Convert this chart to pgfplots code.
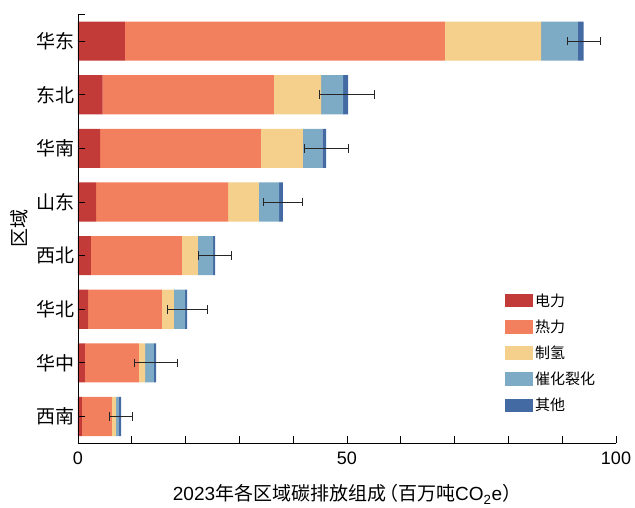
\documentclass[border=0pt]{standalone}
\usepackage{fontspec}
\setmainfont{Liberation Sans}
\newfontfamily\cjk{Noto Sans CJK SC}
\usepackage{pgfplots}
\pgfplotsset{compat=1.18}
\definecolor{cRed}{HTML}{C33B39}
\definecolor{cOrange}{HTML}{F2805F}
\definecolor{cYellow}{HTML}{F5D08D}
\definecolor{cLBlue}{HTML}{7DAAC5}
\definecolor{cDBlue}{HTML}{446AA3}
\pgfplotsset{myleg/.style={legend image code/.code={\fill[##1] (0pt,-6.65pt) rectangle (28pt,6.65pt);}}}
\begin{document}
\begin{tikzpicture}
\begin{axis}[
  name=main,
  scale only axis, width=538pt, height=429pt,
  xbar stacked, bar width=0.73,
  xmin=0, xmax=100, ymin=-0.5, ymax=7.5,
  axis x line*=bottom, axis y line*=left,
  axis line style={line width=0.8pt, black},
  tick align=inside, major tick length=7pt,
  tick style={line width=0.8pt, black},
  xtick={0,10,...,100}, xticklabels={0,,,,,50,,,,,100},
  xticklabel style={font=\fontsize{18}{20}\selectfont, yshift=-5pt},
  /pgf/number format/assume math mode=true,
  ytick={0,...,7},
  yticklabels={西南,华中,华北,西北,山东,华南,东北,华东},
  yticklabel style={font=\fontsize{19}{22}\selectfont\cjk},
  extra y ticks={7.5}, extra y tick labels={},
  axis on top,
  xlabel={2023{\cjk 年各区域碳排放组成\hspace{-7pt}（百万吨}CO\textsubscript{2}e{\cjk ）}},
  every axis x label/.style={at={(axis description cs:0.5,-0.1189)}, anchor=center, font=\fontsize{19}{22}\selectfont},
  ylabel={区域},
  every axis y label/.style={at={(axis description cs:-0.1097,0.5)}, anchor=center, rotate=90, font=\fontsize{19}{22}\selectfont\cjk},
  legend style={draw=none, fill=none, at={(0.7937,0.2105)}, anchor=west, inner sep=0pt,
    font=\fontsize{15}{18}\selectfont\cjk, row sep=8pt},
  legend cell align=left,
]
\addplot[fill=cRed, draw=none, myleg] coordinates {(0.74,0) (1.3,1) (1.9,2) (2.4,3) (3.35,4) (4.1,5) (4.6,6) (8.7,7)};
\addlegendentry{电力}
\addplot[fill=cOrange, draw=none, myleg] coordinates {(5.56,0) (10.0,1) (13.7,2) (16.9,3) (24.55,4) (29.9,5) (31.8,6) (59.5,7)};
\addlegendentry{热力}
\addplot[fill=cYellow, draw=none, myleg] coordinates {(0.76,0) (1.2,1) (2.2,2) (3.0,3) (5.7,4) (7.8,5) (8.8,6) (17.9,7)};
\addlegendentry{制氢}
\addplot[fill=cLBlue, draw=none, myleg] coordinates {(0.44,0) (1.6,1) (2.1,2) (2.8,3) (3.8,4) (3.6,5) (4.1,6) (6.8,7)};
\addlegendentry{催化裂化}
\addplot[fill=cDBlue, draw=none, myleg] coordinates {(0.5,0) (0.4,1) (0.4,2) (0.4,3) (0.7,4) (0.7,5) (0.9,6) (1.1,7)};
\addlegendentry{其他}
\end{axis}
\begin{axis}[
  scale only axis, width=538pt, height=429pt,
  xmin=0, xmax=100, ymin=-0.5, ymax=7.5,
  hide axis,
]
\addplot[draw=none, mark=none,
  error bars/.cd, x dir=both, x explicit, error mark=|,
  error bar style={draw=black!85, line width=0.9pt},
  error mark options={draw=black!85, line width=0.9pt, mark size=4.3pt}]
  coordinates {(8.0,0) +- (2.1,0) (14.5,1) +- (4.0,0) (20.3,2) +- (3.75,0) (25.5,3) +- (3.05,0)
               (38.1,4) +- (3.6,0) (46.1,5) +- (4.1,0) (50.0,6) +- (5.1,0) (94.05,7) +- (3.05,0)};
\end{axis}
\pgfresetboundingbox
\path[use as bounding box] ([xshift=-78pt,yshift=-64pt]main.south west) rectangle ([xshift=19pt,yshift=14.3pt]main.north east);
\end{tikzpicture}
\end{document}
